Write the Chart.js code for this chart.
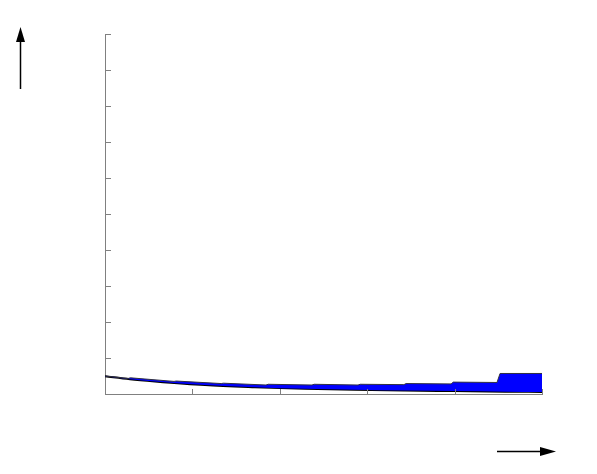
<!DOCTYPE html>
<html>
<head>
<meta charset="utf-8">
<script src="https://cdn.jsdelivr.net/npm/chart.js@4.4.0/dist/chart.umd.min.js"></script>
<style>
html,body{margin:0;padding:0;background:#fff;}
#wrap{width:597px;height:474px;}
</style>
</head>
<body>
<div id="wrap"><canvas id="c" width="597" height="474"></canvas></div>
<script>
// Lower curve (black line)
const curveX = [0, 0.286, 0.572, 1.144, 1.716, 2.288, 2.86, 3.43, 4.0, 4.58, 5.0];
const curveY = [0.49, 0.41, 0.35, 0.25, 0.19, 0.145, 0.115, 0.095, 0.08, 0.065, 0.058];

// Upper step boundary (blue band top)
const upperX = [0, 0.263, 0.29, 0.79, 0.815, 1.33, 1.355, 1.842, 1.867, 2.368, 2.393, 2.895, 2.92, 3.42, 3.445, 3.96, 3.985, 4.485, 4.52, 5.0];
const upperY = [0.50, 0.43, 0.45, 0.35, 0.36, 0.29, 0.30, 0.25, 0.27, 0.25, 0.27, 0.25, 0.27, 0.26, 0.29, 0.28, 0.33, 0.32, 0.57, 0.57];

// Axis ranges / ticks
const xMin = 0, xMax = 5, xStep = 1;
const yMin = 0, yMax = 10, yStep = 1;

const toPts = (xs, ys) => xs.map((x, i) => ({x: x, y: ys[i]}));

const axisColor = '#808080';

const innerTicks = {
  id: 'innerTicks',
  afterDraw(chart) {
    const ctx = chart.ctx;
    const xs = chart.scales.x, ys = chart.scales.y;
    const area = chart.chartArea;
    ctx.save();
    ctx.strokeStyle = axisColor;
    ctx.lineWidth = 1;
    ctx.beginPath();
    xs.ticks.forEach((t, i) => {
      const px = Math.round(xs.getPixelForTick(i)) + 0.5;
      ctx.moveTo(px, area.bottom);
      ctx.lineTo(px, area.bottom - 5);
    });
    ys.ticks.forEach((t, i) => {
      const py = Math.round(ys.getPixelForTick(i)) + 0.5;
      ctx.moveTo(area.left, py);
      ctx.lineTo(area.left + 6, py);
    });
    ctx.stroke();

    // axis direction arrows
    ctx.strokeStyle = '#000';
    ctx.fillStyle = '#000';
    ctx.lineWidth = 1.5;
    ctx.beginPath();
    ctx.moveTo(20.5, 89);
    ctx.lineTo(20.5, 40);
    ctx.stroke();
    ctx.beginPath();
    ctx.moveTo(20.5, 27);
    ctx.lineTo(16, 42);
    ctx.lineTo(25, 42);
    ctx.closePath();
    ctx.fill();

    ctx.beginPath();
    ctx.moveTo(497, 451.5);
    ctx.lineTo(545, 451.5);
    ctx.stroke();
    ctx.beginPath();
    ctx.moveTo(556, 451.5);
    ctx.lineTo(540, 447);
    ctx.lineTo(540, 456);
    ctx.closePath();
    ctx.fill();
    ctx.restore();
  }
};

new Chart(document.getElementById('c'), {
  type: 'line',
  data: {
    datasets: [
      {
        data: toPts(upperX, upperY),
        borderColor: '#303040',
        borderWidth: 1,
        backgroundColor: '#0000ff',
        fill: 1,
        pointRadius: 0,
        tension: 0
      },
      {
        data: toPts(curveX, curveY),
        borderColor: '#000000',
        borderWidth: 2,
        fill: false,
        pointRadius: 0,
        cubicInterpolationMode: 'monotone'
      }
    ]
  },
  options: {
    responsive: false,
    animation: false,
    layout: {padding: {left: 105, top: 34, right: 55, bottom: 80}},
    plugins: {legend: {display: false}, tooltip: {enabled: false}},
    scales: {
      x: {
        type: 'linear', min: xMin, max: xMax,
        ticks: {display: false, stepSize: xStep},
        grid: {display: false, drawTicks: false},
        border: {display: true, color: axisColor, width: 1}
      },
      y: {
        type: 'linear', min: yMin, max: yMax,
        ticks: {display: false, stepSize: yStep},
        grid: {display: false, drawTicks: false},
        border: {display: true, color: axisColor, width: 1}
      }
    }
  },
  plugins: [innerTicks]
});
</script>
</body>
</html>
